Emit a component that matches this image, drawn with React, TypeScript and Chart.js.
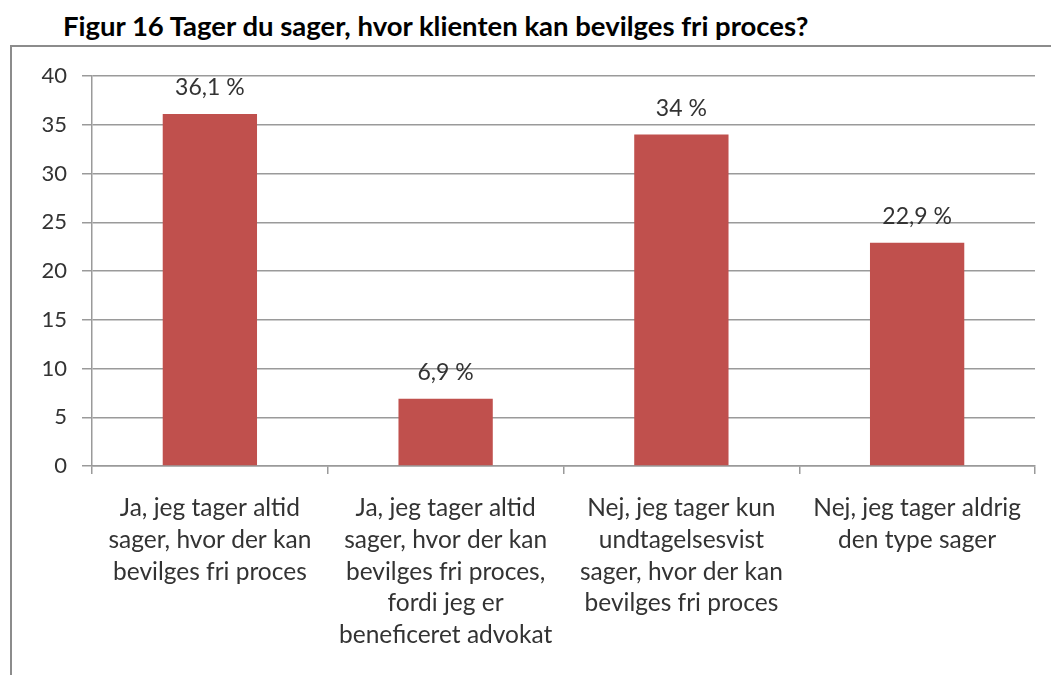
import React, { useEffect, useRef } from "react";
import { Chart, registerables } from "chart.js";

Chart.register(...registerables);

const TITLE = "Figur 16 Tager du sager, hvor klienten kan bevilges fri proces?";
const categories: string[][] = [
  ["Ja, jeg tager altid", "sager, hvor der kan", "bevilges fri proces"],
  ["Ja, jeg tager altid", "sager, hvor der kan", "bevilges fri proces,", "fordi jeg er", "beneficeret advokat"],
  ["Nej, jeg tager kun", "undtagelsesvist", "sager, hvor der kan", "bevilges fri proces"],
  ["Nej, jeg tager aldrig", "den type sager"],
];
const values: number[] = [36.1, 6.9, 34, 22.9];
const valueLabels: string[] = ["36,1 %", "6,9 %", "34 %", "22,9 %"];
const yTicks: number[] = [0, 5, 10, 15, 20, 25, 30, 35, 40];

const FONT = "Lato, 'Open Sans', sans-serif";
const GRID = "#9a9a9a";
const TEXT = "#333333";

const labelPlugin = {
  id: "valueLabels",
  afterDatasetsDraw(chart: any) {
    const ctx = chart.ctx;
    const meta = chart.getDatasetMeta(0);
    ctx.save();
    ctx.font = `23px ${FONT}`;
    ctx.fillStyle = TEXT;
    ctx.textAlign = "center";
    ctx.textBaseline = "middle";
    meta.data.forEach((el: any, i: number) => {
      ctx.fillText(valueLabels[i], el.x, el.y - 26);
    });
    ctx.restore();
  },
};

export default function App() {
  const ref = useRef<HTMLCanvasElement>(null);
  useEffect(() => {
    if (!ref.current) return;
    const chart = new Chart(ref.current, {
      type: "bar",
      data: {
        labels: categories,
        datasets: [
          {
            data: values,
            backgroundColor: "#C0504D",
            barPercentage: 0.4,
            categoryPercentage: 1,
          },
        ],
      },
      options: {
        responsive: false,
        animation: false,
        layout: { padding: { left: 0, top: 76, right: 16, bottom: 0 } },
        plugins: { legend: { display: false }, tooltip: { enabled: false } },
        scales: {
          y: {
            min: 0,
            max: 40,
            afterFit: (s: any) => {
              s.width = 92;
            },
            afterBuildTicks: (s: any) => {
              s.ticks = yTicks.map((v) => ({ value: v }));
            },
            ticks: {
              padding: 15,
              color: TEXT,
              font: { family: FONT, size: 22 },
            },
            grid: { color: GRID, tickLength: 10, lineWidth: 1.5 },
            border: { color: GRID, width: 1.5 },
          },
          x: {
            afterFit: (s: any) => {
              s.height = 209;
            },
            ticks: {
              padding: 18,
              color: TEXT,
              maxRotation: 0,
              autoSkip: false,
              font: { family: FONT, size: 24.5, lineHeight: 1.3 },
            },
            grid: {
              offset: true,
              drawOnChartArea: false,
              tickLength: 8,
              color: GRID,
              lineWidth: 1.5,
            },
            border: { color: GRID, width: 1.5 },
          },
        },
      },
      plugins: [labelPlugin],
    });
    return () => chart.destroy();
  }, []);

  return (
    <div
      style={{
        position: "fixed",
        left: 0,
        top: 0,
        width: 1051,
        height: 675,
        overflow: "hidden",
        background: "#fff",
      }}
    >
      <div
        style={{
          position: "absolute",
          left: 63,
          top: 12,
          font: `bold 27.5px ${FONT}`,
          lineHeight: "27.5px",
          color: "#000",
          whiteSpace: "nowrap",
        }}
      >
        {TITLE}
      </div>
      <div
        style={{
          position: "absolute",
          left: 10,
          top: 45,
          width: 1200,
          height: 800,
          borderLeft: "2px solid #8c8c8c",
          borderTop: "2px solid #8c8c8c",
        }}
      />
      <canvas
        ref={ref}
        width={1051}
        height={675}
        style={{ position: "absolute", left: 0, top: 0 }}
      />
    </div>
  );
}
